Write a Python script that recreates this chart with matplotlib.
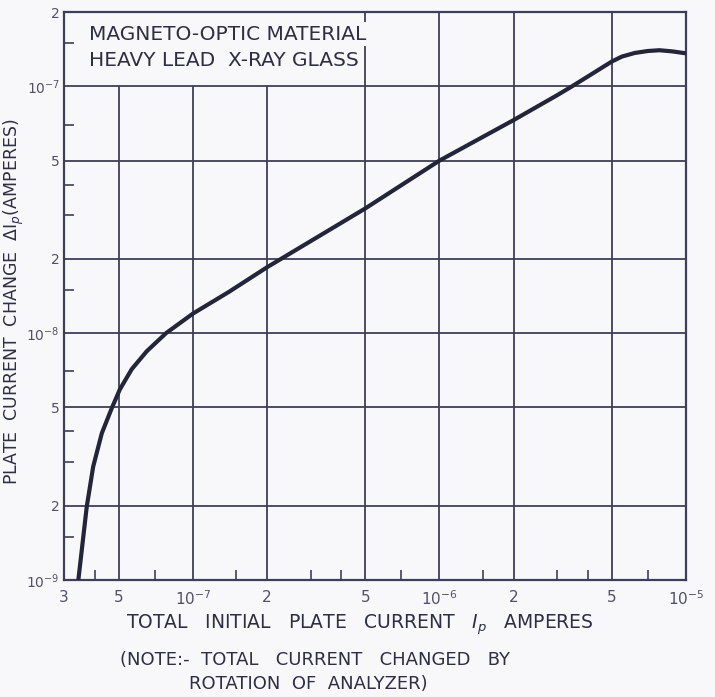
import matplotlib
matplotlib.use("Agg")
import matplotlib.pyplot as plt
from matplotlib.ticker import FixedLocator, FixedFormatter, NullFormatter

# Plate current change versus total initial plate current
plate_current = [3.43e-8, 3.71e-8, 3.94e-8, 4.27e-8, 4.68e-8, 5.06e-8, 5.65e-8, 6.5e-8,
                 7.78e-8, 1.0e-7, 1.4e-7, 2.0e-7, 5.0e-7, 1.0e-6, 2.0e-6, 3.0e-6,
                 3.45e-6, 4.2e-6, 5.0e-6, 5.5e-6, 6.2e-6, 7.0e-6, 7.8e-6, 8.8e-6, 1.0e-5]
current_change = [1.0e-9, 1.98e-9, 2.88e-9, 3.93e-9, 4.95e-9, 5.93e-9, 7.15e-9, 8.45e-9,
                  1.0e-8, 1.2e-8, 1.47e-8, 1.85e-8, 3.2e-8, 5.0e-8, 7.3e-8, 9.2e-8,
                  1.0e-7, 1.13e-7, 1.26e-7, 1.32e-7, 1.365e-7, 1.39e-7, 1.40e-7, 1.385e-7, 1.36e-7]

x_grid = [5e-8, 1e-7, 2e-7, 5e-7, 1e-6, 2e-6, 5e-6]
y_grid = [2e-9, 5e-9, 1e-8, 2e-8, 5e-8, 1e-7]
x_tick_values = [3e-8, 5e-8, 1e-7, 2e-7, 5e-7, 1e-6, 2e-6, 5e-6, 1e-5]
x_tick_labels = ['3', '5', r'$10^{-7}$', '2', '5', r'$10^{-6}$', '2', '5', r'$10^{-5}$']
y_tick_values = [1e-9, 2e-9, 5e-9, 1e-8, 2e-8, 5e-8, 1e-7, 2e-7]
y_tick_labels = [r'$10^{-9}$', '2', '5', r'$10^{-8}$', '2', '5', r'$10^{-7}$', '2']
x_minor = [4e-8, 7e-8, 1.5e-7, 3e-7, 4e-7, 7e-7, 1.5e-6, 3e-6, 4e-6, 7e-6]
y_minor = [1.5e-9, 3e-9, 4e-9, 7e-9, 1.5e-8, 3e-8, 4e-8, 7e-8, 1.5e-7]

title_lines = ["MAGNETO-OPTIC MATERIAL", "HEAVY LEAD  X-RAY GLASS"]
x_label = r"TOTAL   INITIAL   PLATE   CURRENT   $I_p$   AMPERES"
y_label = r"PLATE  CURRENT  CHANGE  $\Delta \mathrm{I}_p$(AMPERES)"
note_lines = ["(NOTE:-  TOTAL   CURRENT   CHANGED   BY", "ROTATION  OF  ANALYZER)"]

ink = "#3e3e5a"
curve_ink = "#24243a"
text_ink = "#2e2e44"
paper = "#f8f8fb"

x_min, x_max = 3e-8, 1e-5
y_min, y_max = 1e-9, 2e-7
box_right = 5e-7   # grid stops below the 1e-7 line left of this, leaving room for the title

fig = plt.figure(figsize=(7.15, 6.97), dpi=100, facecolor=paper)
ax = fig.add_axes([64 / 715, 1 - 580 / 697, 622 / 715, 568 / 697], facecolor=paper)
ax.set_xscale("log")
ax.set_yscale("log")
ax.set_xlim(x_min, x_max)
ax.set_ylim(y_min, y_max)

# Hand-drawn style grid
for xv in x_grid:
    top = y_max if xv >= box_right else 1e-7
    ax.vlines(xv, y_min, top, color=ink, lw=1.3, zorder=1)
for yv in y_grid:
    ax.hlines(yv, x_min, x_max, color=ink, lw=1.3, zorder=1)

ax.plot(plate_current, current_change, color=curve_ink, lw=3.0,
        solid_capstyle="butt", solid_joinstyle="round", zorder=3)

for s in ax.spines.values():
    s.set_color(ink)
    s.set_linewidth(1.6)

ax.xaxis.set_major_locator(FixedLocator(x_tick_values))
ax.xaxis.set_major_formatter(FixedFormatter(x_tick_labels))
ax.xaxis.set_minor_locator(FixedLocator(x_minor))
ax.xaxis.set_minor_formatter(NullFormatter())
ax.yaxis.set_major_locator(FixedLocator(y_tick_values))
ax.yaxis.set_major_formatter(FixedFormatter(y_tick_labels))
ax.yaxis.set_minor_locator(FixedLocator(y_minor))
ax.yaxis.set_minor_formatter(NullFormatter())

ax.tick_params(which="major", length=0, labelsize=11, labelcolor="#50506a", pad=7)
ax.tick_params(which="minor", direction="in", length=7, width=1.2, color=ink)
ax.tick_params(axis="y", which="major", pad=3, labelsize=10)

# Title lettering sits over the 5e-7 grid line, which breaks around it
fig.text(89 / 715, 1 - 34 / 697, title_lines[0], fontsize=14.5, color=text_ink,
         va="center", ha="left",
         bbox=dict(facecolor=paper, edgecolor="none", pad=1.5))
fig.text(89 / 715, 1 - 60 / 697, title_lines[1], fontsize=14.5, color=text_ink,
         va="center", ha="left")

fig.text(360 / 715, 1 - 625 / 697, x_label, fontsize=13.5, color=text_ink,
         ha="center", va="center")
fig.text(14 / 715, 1 - 302 / 697, y_label, fontsize=12.5, color=text_ink,
         ha="center", va="center", rotation=90)
fig.text(315 / 715, 1 - 660 / 697, note_lines[0], fontsize=13, color=text_ink,
         ha="center", va="center")
fig.text(308 / 715, 1 - 684 / 697, note_lines[1], fontsize=13, color=text_ink,
         ha="center", va="center")

fig.savefig("out.png", dpi=100, facecolor=paper)
